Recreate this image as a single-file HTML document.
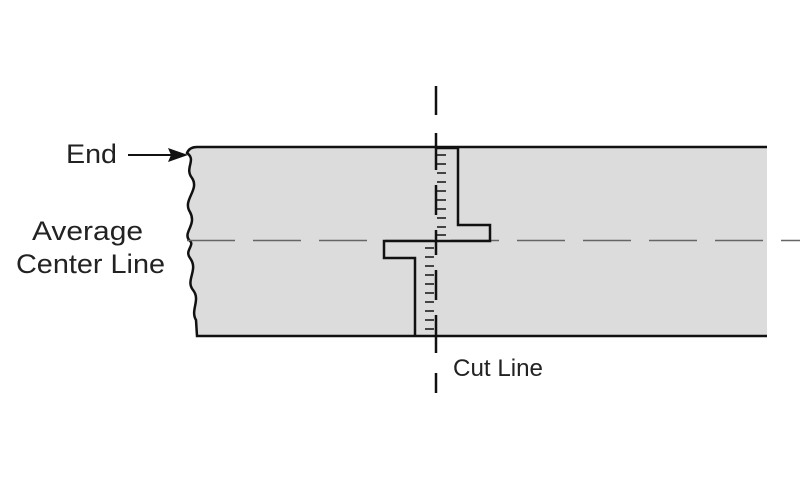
<!DOCTYPE html>
<html><head><style>
html,body{margin:0;padding:0;background:#fff;width:800px;height:500px;overflow:hidden}
svg{display:block}
text{font-family:"Liberation Sans",sans-serif;fill:#222}
</style></head><body>
<svg width="800" height="500" viewBox="0 0 800 500">
<path d="M197,147 L767,147 L767,336 L197,336 L196,320 C190,310 201,300 193,290 C185,280 199,270 190,258 C184,250 196,245 189,240 C183,232 197,225 190,212 C182,200 200,190 192,178 C184,168 197,160 187,153 C189,148 193,147 197,147 Z" fill="#dcdcdc"/>
<path d="M767,147 L197,147 C193,147 189,148 187,153 C197,160 184,168 192,178 C200,190 182,200 190,212 C197,225 183,232 189,240 C196,245 184,250 190,258 C199,270 185,280 193,290 C201,300 190,310 196,320 L197,336 L767,336" fill="none" stroke="#111" stroke-width="2.5"/>
<line x1="187" y1="240.5" x2="800" y2="240.5" stroke="#666" stroke-width="1.5" stroke-dasharray="48,18"/>
<g stroke="#111" stroke-width="2.5">
<line x1="436" y1="86" x2="436" y2="115"/>
<line x1="436" y1="133" x2="436" y2="170"/>
<line x1="436" y1="185" x2="436" y2="215"/>
<line x1="436" y1="230" x2="436" y2="255"/>
<line x1="436" y1="270" x2="436" y2="300"/>
<line x1="436" y1="315" x2="436" y2="353"/>
<line x1="436" y1="373" x2="436" y2="393"/>
</g>
<path d="M437,148 L458,148 L458,225 L490,225 L490,241 L437,241" fill="none" stroke="#111" stroke-width="2.5"/>
<path d="M437,241 L384,241 L384,258 L415,258 L415,336" fill="none" stroke="#111" stroke-width="2.5"/>
<g stroke="#111" stroke-width="1.5">
<line x1="437" y1="155" x2="446" y2="155"/><line x1="437" y1="164" x2="446" y2="164"/><line x1="437" y1="173" x2="446" y2="173"/><line x1="437" y1="182" x2="446" y2="182"/><line x1="437" y1="191" x2="446" y2="191"/><line x1="437" y1="200" x2="446" y2="200"/><line x1="437" y1="209" x2="446" y2="209"/><line x1="437" y1="218" x2="446" y2="218"/><line x1="437" y1="227" x2="446" y2="227"/><line x1="437" y1="235" x2="446" y2="235"/>
<line x1="425" y1="248" x2="434" y2="248"/><line x1="425" y1="257" x2="434" y2="257"/><line x1="425" y1="266" x2="434" y2="266"/><line x1="425" y1="275" x2="434" y2="275"/><line x1="425" y1="284" x2="434" y2="284"/><line x1="425" y1="293" x2="434" y2="293"/><line x1="425" y1="302" x2="434" y2="302"/><line x1="425" y1="311" x2="434" y2="311"/><line x1="425" y1="320" x2="434" y2="320"/><line x1="425" y1="329" x2="434" y2="329"/>
</g>
<line x1="128" y1="155" x2="172" y2="155" stroke="#111" stroke-width="2"/>
<polygon points="188,155 168,148 171,155 168,162" fill="#111"/>
<text x="66" y="163" font-size="27" textLength="51" lengthAdjust="spacingAndGlyphs">End</text>
<text x="32" y="240" font-size="27" textLength="111" lengthAdjust="spacingAndGlyphs">Average</text>
<text x="16" y="273" font-size="27" textLength="149" lengthAdjust="spacingAndGlyphs">Center Line</text>
<text x="453" y="376" font-size="24" textLength="90" lengthAdjust="spacingAndGlyphs">Cut Line</text>
</svg>
</body></html>
